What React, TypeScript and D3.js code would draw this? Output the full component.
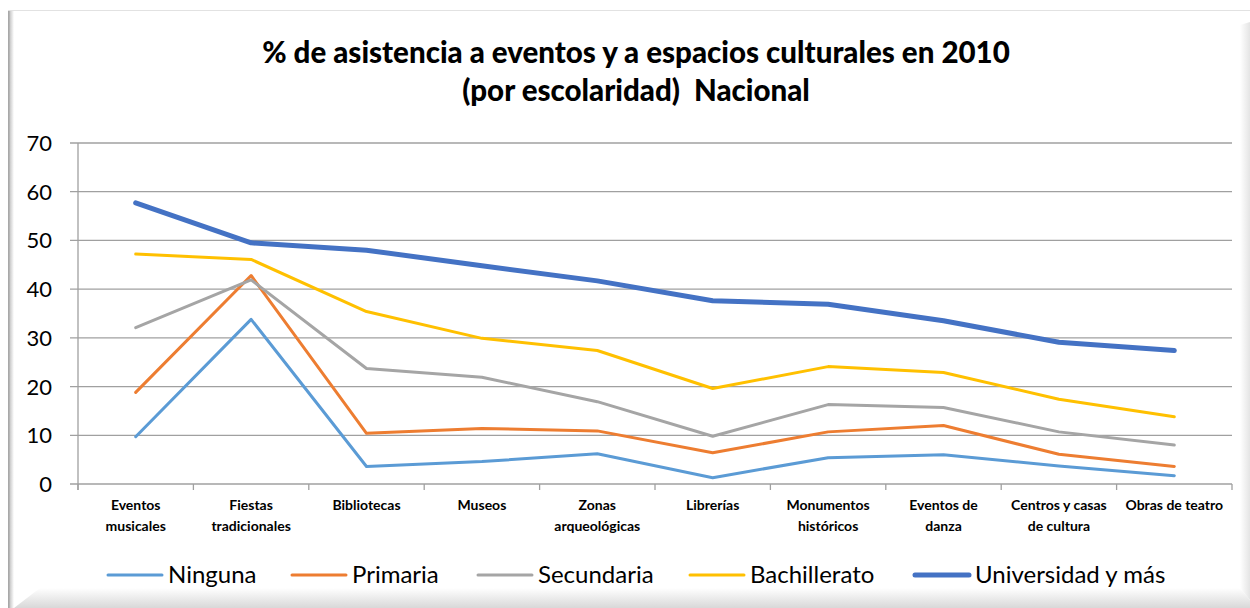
import React, { useEffect, useRef } from "react";
import * as d3 from "d3";

const categories = [
  ["Eventos", "musicales"],
  ["Fiestas", "tradicionales"],
  ["Bibliotecas"],
  ["Museos"],
  ["Zonas", "arqueológicas"],
  ["Librerías"],
  ["Monumentos", "históricos"],
  ["Eventos de", "danza"],
  ["Centros y casas", "de cultura"],
  ["Obras de teatro"],
];

const ninguna = [9.7, 33.8, 3.6, 4.6, 6.2, 1.3, 5.4, 6.0, 3.7, 1.7];
const primaria = [18.8, 42.8, 10.4, 11.4, 10.9, 6.4, 10.7, 12.0, 6.1, 3.6];
const secundaria = [32.1, 41.9, 23.7, 21.9, 16.9, 9.8, 16.3, 15.7, 10.7, 8.0];
const bachillerato = [47.2, 46.1, 35.4, 29.9, 27.4, 19.6, 24.1, 22.9, 17.4, 13.8];
const universidad = [57.7, 49.5, 48.0, 44.8, 41.7, 37.6, 36.9, 33.5, 29.1, 27.4];

const seriesNames = ["Ninguna", "Primaria", "Secundaria", "Bachillerato", "Universidad y más"];
const seriesValues = [ninguna, primaria, secundaria, bachillerato, universidad];
const seriesColors = ["#5B9BD5", "#ED7D31", "#A5A5A5", "#FFC000", "#4472C4"];
const seriesWidths = [3, 3, 3, 3, 5];
const yTicks = [0, 10, 20, 30, 40, 50, 60, 70];
const titleLines = ["% de asistencia a eventos y a espacios culturales en 2010", "(por escolaridad)  Nacional"];

const legendX = [108, 292, 478, 690, 915];

const W = 1250, H = 608;
const FONT = "Lato, 'Open Sans', sans-serif";

export default function App() {
  const ref = useRef<SVGSVGElement>(null);
  useEffect(() => {
    const svg = d3.select(ref.current);
    svg.selectAll("*").remove();

    const left = 78, right = 1232, top = 143, bottom = 484;
    const x = d3.scaleBand<number>().domain(d3.range(categories.length)).range([left, right]);
    const y = d3.scaleLinear().domain([0, 70]).range([bottom, top]);

    // frame
    const defs = svg.append("defs");
    const gl = defs.append("linearGradient").attr("id", "gl").attr("x1", 0).attr("x2", 1);
    gl.append("stop").attr("offset", 0).attr("stop-color", "#b0b0b0");
    gl.append("stop").attr("offset", 1).attr("stop-color", "#ffffff");
    const gb = defs.append("linearGradient").attr("id", "gb").attr("x1", 0).attr("x2", 0).attr("y1", 0).attr("y2", 1);
    gb.append("stop").attr("offset", 0).attr("stop-color", "#ffffff");
    gb.append("stop").attr("offset", 1).attr("stop-color", "#d8d8d8");
    const gr = defs.append("linearGradient").attr("id", "gr").attr("x1", 0).attr("x2", 1);
    gr.append("stop").attr("offset", 0).attr("stop-color", "#ffffff");
    gr.append("stop").attr("offset", 1).attr("stop-color", "#e4e4e4");

    svg.append("rect").attr("x", 0).attr("y", 0).attr("width", W).attr("height", H).attr("fill", "#fff");
    svg.append("line").attr("x1", 8).attr("x2", W).attr("y1", 10.5).attr("y2", 10.5).attr("stroke", "#e2e2e2");
    svg.append("rect").attr("x", 8).attr("y", 11).attr("width", 6).attr("height", H - 11).attr("fill", "url(#gl)");
    svg.append("rect").attr("x", 8).attr("y", 11).attr("width", 1.5).attr("height", H - 11).attr("fill", "#a8a8a8");
    svg.append("path").attr("d", `M14,608 L40,588 L1240,588 L1250,600 L1250,608 Z`).attr("fill", "url(#gb)");
    svg.append("path").attr("d", `M1240,25 L1250,22 L1250,600 L1240,588 Z`).attr("fill", "url(#gr)");

    // title
    titleLines.forEach((t, i) => {
      svg.append("text").attr("x", 636).attr("y", 63 + i * 38).attr("text-anchor", "middle")
        .style("white-space", "pre")
        .attr("font-family", FONT).attr("font-weight", 900).attr("font-size", 29.5).attr("fill", "#000").text(t);
    });

    // grid
    const g = svg.append("g");
    yTicks.forEach((t) => {
      g.append("line").attr("x1", left - 8).attr("x2", right).attr("y1", y(t)).attr("y2", y(t))
        .attr("stroke", "#a0a0a0").attr("stroke-width", 1.3);
      g.append("text").attr("x", 52).attr("y", y(t) + 8).attr("text-anchor", "end")
        .attr("font-family", FONT).attr("font-size", 22).attr("fill", "#000").text(t);
    });
    g.append("line").attr("x1", left).attr("x2", left).attr("y1", top).attr("y2", bottom + 6)
      .attr("stroke", "#a0a0a0").attr("stroke-width", 1.3);
    d3.range(categories.length + 1).forEach((i) => {
      const xx = left + i * x.bandwidth();
      g.append("line").attr("x1", xx).attr("x2", xx).attr("y1", bottom).attr("y2", bottom + 6)
        .attr("stroke", "#a0a0a0").attr("stroke-width", 1.3);
    });
    categories.forEach((lines, i) => {
      const cx = (x(i) as number) + x.bandwidth() / 2;
      lines.forEach((l, j) => {
        g.append("text").attr("x", cx).attr("y", 510 + j * 21).attr("text-anchor", "middle")
          .attr("font-family", FONT).attr("font-weight", "bold").attr("font-size", 14).attr("fill", "#000").text(l);
      });
    });

    // lines
    const line = d3.line<number>()
      .x((_, i) => (x(i) as number) + x.bandwidth() / 2)
      .y((d) => y(d));
    seriesValues.forEach((vals, k) => {
      svg.append("path").attr("d", line(vals)).attr("fill", "none")
        .attr("stroke", seriesColors[k]).attr("stroke-width", seriesWidths[k])
        .attr("stroke-linecap", "round").attr("stroke-linejoin", "round");
    });

    // legend
    seriesNames.forEach((n, k) => {
      const lx = legendX[k];
      svg.append("line").attr("x1", lx).attr("x2", lx + 54).attr("y1", 575).attr("y2", 575)
        .attr("stroke", seriesColors[k]).attr("stroke-width", seriesWidths[k]).attr("stroke-linecap", "round");
      svg.append("text").attr("x", lx + 60).attr("y", 583).attr("font-family", FONT)
        .attr("font-size", 24).attr("fill", "#000").text(n);
    });
  }, []);
  return (
    <svg ref={ref} width={W} height={H} style={{ position: "absolute", left: 0, top: 0 }} />
  );
}
